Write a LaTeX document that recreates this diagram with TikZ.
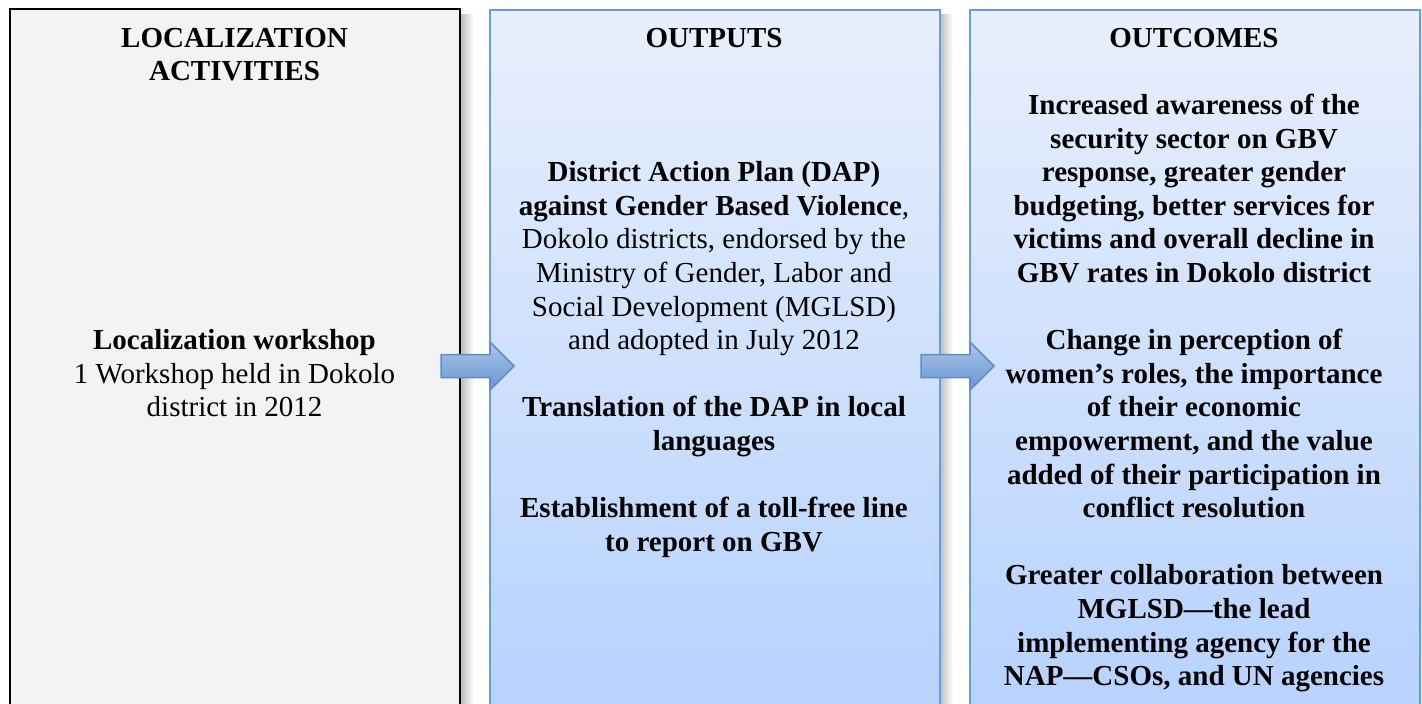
\documentclass[tikz,border=0pt]{standalone}
\usepackage{fontspec}
\setmainfont{Liberation Serif}
\usetikzlibrary{calc}

\definecolor{panelgray}{HTML}{F3F3F3}
\definecolor{paneltop}{HTML}{E8EFFC}
\definecolor{panelbot}{HTML}{B6D2FE}
\definecolor{panelline}{HTML}{6C9BD5}
\definecolor{arrowtop}{HTML}{AAC5EA}
\definecolor{arrowbot}{HTML}{6896D0}
\definecolor{arrowline}{HTML}{5C8DCC}

% first-line strut: every text block starts 30pt above its first baseline
\newcommand{\firstln}{\rule{0pt}{30pt}}

\tikzset{
  column/.style={rectangle, inner sep=0, minimum width=450pt, minimum height=704pt, anchor=north west},
  graycol/.style={column, draw=black, line width=2pt, fill=panelgray},
  bluecol/.style={column, draw=panelline, line width=2pt, top color=paneltop, bottom color=panelbot},
  txt/.style={align=center, inner sep=0, anchor=north, font=\fontsize{29}{33.6}\selectfont},
  blockarrow/.style={draw=arrowline, line width=1.5pt, line join=miter, top color=arrowtop, bottom color=arrowbot},
  dropshadow/.style={left color=black!28, right color=white, draw=none}
}

\begin{document}
\begin{tikzpicture}[x=1pt, y=-1pt]
  \useasboundingbox (0,0) rectangle (1422,704);
  \fill[white] (0,0) rectangle (1422,704);
  \clip (0,0) rectangle (1422,704);

  % soft shadows to the right of each column
  \fill[dropshadow] (460,14) rectangle (474,704);
  \fill[dropshadow] (939,14) rectangle (953,704);
  \fill[dropshadow] (1419,14) rectangle (1422,704);

  % the three columns
  \node[graycol] (act) at (9,8)   {};
  \node[bluecol] (out) at (489,9) {};
  \node[bluecol] (res) at (969,9) {};

  % headings
  \node[txt] (acthead) at (234.5,17) {\firstln\textbf{LOCALIZATION}\\\textbf{ACTIVITIES}};
  \node[txt] (outhead) at (714,17)   {\firstln\textbf{OUTPUTS}};
  \node[txt] (reshead) at (1194,17)  {\firstln\textbf{OUTCOMES}};

  % column bodies
  \node[txt] (actbody) at (234.5,319.4) {\firstln\textbf{Localization workshop}\\
    1 Workshop held in Dokolo\\
    district in 2012};

  \node[txt] (outbody) at (714,151.4) {\firstln\textbf{District Action Plan (DAP)}\\
    \textbf{against Gender Based Violence},\\
    Dokolo districts, endorsed by the\\
    Ministry of Gender, Labor and\\
    Social Development (MGLSD)\\
    and adopted in July 2012\\[33.6pt]
    \textbf{Translation of the DAP in local}\\
    \textbf{languages}\\[33.6pt]
    \textbf{Establishment of a toll-free line}\\
    \textbf{to report on GBV}};

  \node[txt, font=\fontsize{29}{33.6}\selectfont\bfseries] (resbody) at (1194,84.2) {\firstln Increased awareness of the\\
    security sector on GBV\\
    response, greater gender\\
    budgeting, better services for\\
    victims and overall decline in\\
    GBV rates in Dokolo district\\[33.6pt]
    Change in perception of\\
    women’s roles, the importance\\
    of their economic\\
    empowerment, and the value\\
    added of their participation in\\
    conflict resolution\\[33.6pt]
    Greater collaboration between\\
    MGLSD—the lead\\
    implementing agency for the\\
    NAP—CSOs, and UN agencies};

  % block arrows from each column into the next
  \coordinate (a1) at ($(out.north west)+(-48,357)$);
  \coordinate (a2) at ($(res.north west)+(-48,357)$);
  \foreach \s in {a1,a2}{
    \draw[blockarrow] (\s) ++(0,-11.5) -- ++(49,0) -- ++(0,-12.5) -- ++(24,24)
      -- ++(-24,24) -- ++(0,-12.5) -- ++(-49,0) -- cycle;
  }
\end{tikzpicture}
\end{document}
